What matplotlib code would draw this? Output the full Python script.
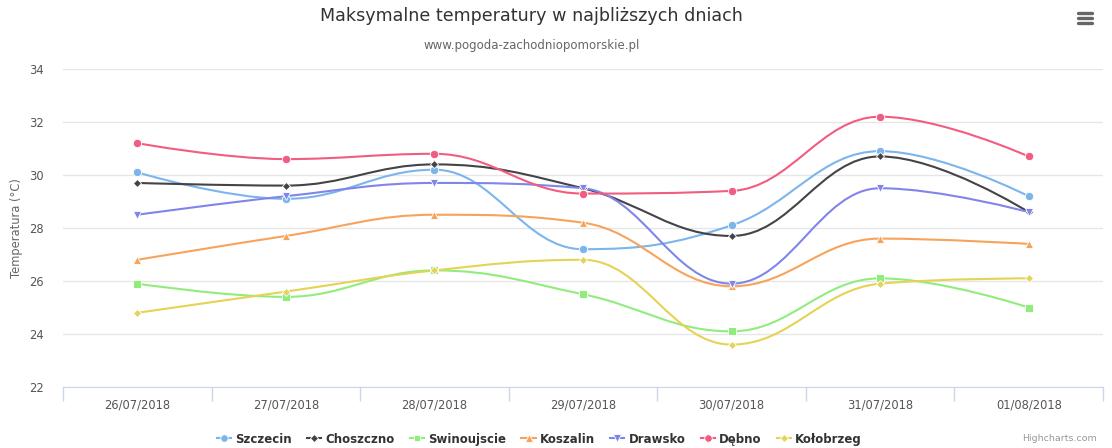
import numpy as np
import matplotlib
matplotlib.use('Agg')
import matplotlib.pyplot as plt
from matplotlib.path import Path
from matplotlib.patches import PathPatch
from matplotlib.lines import Line2D

dates = ['26/07/2018', '27/07/2018', '28/07/2018', '29/07/2018',
         '30/07/2018', '31/07/2018', '01/08/2018']

szczecin = [30.1, 29.1, 30.2, 27.2, 28.1, 30.9, 29.2]
choszczno = [29.7, 29.6, 30.4, 29.5, 27.7, 30.7, 28.6]
swinoujscie = [25.9, 25.4, 26.4, 25.5, 24.1, 26.1, 25.0]
koszalin = [26.8, 27.7, 28.5, 28.2, 25.8, 27.6, 27.4]
drawsko = [28.5, 29.2, 29.7, 29.5, 25.9, 29.5, 28.6]
debno = [31.2, 30.6, 30.8, 29.3, 29.4, 32.2, 30.7]
kolobrzeg = [24.8, 25.6, 26.4, 26.8, 23.6, 25.9, 26.1]

series = [
    ('Szczecin', szczecin, '#7cb5ec', 'o', 6.0),
    ('Choszczno', choszczno, '#434348', 'D', 4.2),
    ('Swinoujscie', swinoujscie, '#90ed7d', 's', 5.5),
    ('Koszalin', koszalin, '#f7a35c', '^', 6.0),
    ('Drawsko', drawsko, '#8085e9', 'v', 6.0),
    ('Dębno', debno, '#f15c80', 'o', 6.0),
    ('Kołobrzeg', kolobrzeg, '#e4d354', 'D', 4.2),
]


def spline_path(xs, ys):
    # highcharts-like spline, smoothing 1.5
    n = len(xs)
    sm = 1.5
    den = sm + 1
    left = [None] * n
    right = [None] * n
    for i in range(1, n - 1):
        px, py = xs[i], ys[i]
        lx, ly = xs[i - 1], ys[i - 1]
        nx, ny = xs[i + 1], ys[i + 1]
        lcx = (sm * px + lx) / den
        lcy = (sm * py + ly) / den
        rcx = (sm * px + nx) / den
        rcy = (sm * py + ny) / den
        corr = 0
        if rcx != lcx:
            corr = (rcy - lcy) * (rcx - px) / (rcx - lcx) + py - rcy
        lcy += corr
        rcy += corr
        if lcy > ly and lcy > py:
            lcy = max(ly, py)
            rcy = 2 * py - lcy
        elif lcy < ly and lcy < py:
            lcy = min(ly, py)
            rcy = 2 * py - lcy
        if rcy > ny and rcy > py:
            rcy = max(ny, py)
            lcy = 2 * py - rcy
        elif rcy < ny and rcy < py:
            rcy = min(ny, py)
            lcy = 2 * py - rcy
        left[i] = (lcx, lcy)
        right[i] = (rcx, rcy)
    verts = [(xs[0], ys[0])]
    codes = [Path.MOVETO]
    for i in range(1, n):
        c1 = right[i - 1] if right[i - 1] else (xs[i - 1], ys[i - 1])
        c2 = left[i] if left[i] else (xs[i], ys[i])
        verts += [c1, c2, (xs[i], ys[i])]
        codes += [Path.CURVE4] * 3
    return Path(verts, codes)


fig = plt.figure(figsize=(11.12, 4.48), dpi=100)
ax = fig.add_axes([63 / 1112, 1 - 387 / 448, 1040 / 1112, 318 / 448])

x = np.arange(len(dates))
for name, vals, color, marker, ms in series:
    p = spline_path(list(x), vals)
    ax.add_patch(PathPatch(p, facecolor='none', edgecolor=color, lw=1.5,
                           zorder=3, capstyle='round', joinstyle='round'))
    ax.plot(x, vals, linestyle='none', marker=marker, markersize=ms,
            color=color, markeredgecolor='white', markeredgewidth=0.6, zorder=4)

ax.set_xlim(-0.5, 6.5)
ax.set_ylim(22, 34)
ax.set_yticks(np.arange(22, 35, 2))
ax.grid(axis='y', color='#e6e6e6', lw=1)
ax.set_axisbelow(True)
ax.set_xticks(x)
ax.set_xticklabels(dates)
ax.set_xticks(np.arange(-0.5, 7, 1), minor=True)
ax.tick_params(axis='x', which='major', length=0, pad=8, labelsize=8.3, labelcolor='#555555')
ax.tick_params(axis='x', which='minor', length=10, color='#ccd6eb', width=1)
ax.tick_params(axis='y', length=0, pad=14, labelsize=8.3, labelcolor='#555555')
for s in ['top', 'right', 'left']:
    ax.spines[s].set_visible(False)
ax.spines['bottom'].set_color('#ccd6eb')
ax.set_ylabel('Temperatura (°C)', color='#666666', fontsize=8.3)
ax.yaxis.set_label_coords(-40 / 1040, 0.5)

fig.text(0.478, 1 - 16 / 448, 'Maksymalne temperatury w najbliższych dniach',
         ha='center', va='center', fontsize=12.6, color='#333333')
fig.text(0.478, 1 - 45 / 448, 'www.pogoda-zachodniopomorskie.pl',
         ha='center', va='center', fontsize=8.5, color='#666666')

handles = [Line2D([0], [0], color=c, lw=1.5, marker=m, markersize=ms * 0.9,
                  markeredgecolor='white', markeredgewidth=0.6)
           for _, _, c, m, ms in series]
leg = fig.legend(handles, [s[0] for s in series], loc='center',
                 bbox_to_anchor=(0.485, 1 - 439 / 448), ncol=7, frameon=False,
                 handlelength=1.2, handletextpad=0.35, columnspacing=1.3,
                 prop={'weight': 'bold', 'size': 8.5})
for t in leg.get_texts():
    t.set_color('#333333')

fig.text(1 - 15 / 1112, 1 - 438 / 448, 'Highcharts.com', ha='right', va='center',
         fontsize=6.8, color='#999999')

# menu icon
for yy in [13, 18, 23]:
    fig.add_artist(Line2D([1078 / 1112, 1092 / 1112], [1 - yy / 448, 1 - yy / 448],
                          transform=fig.transFigure, color='#666666', lw=2.4,
                          solid_capstyle='round'))

fig.savefig('out.png', dpi=100)
